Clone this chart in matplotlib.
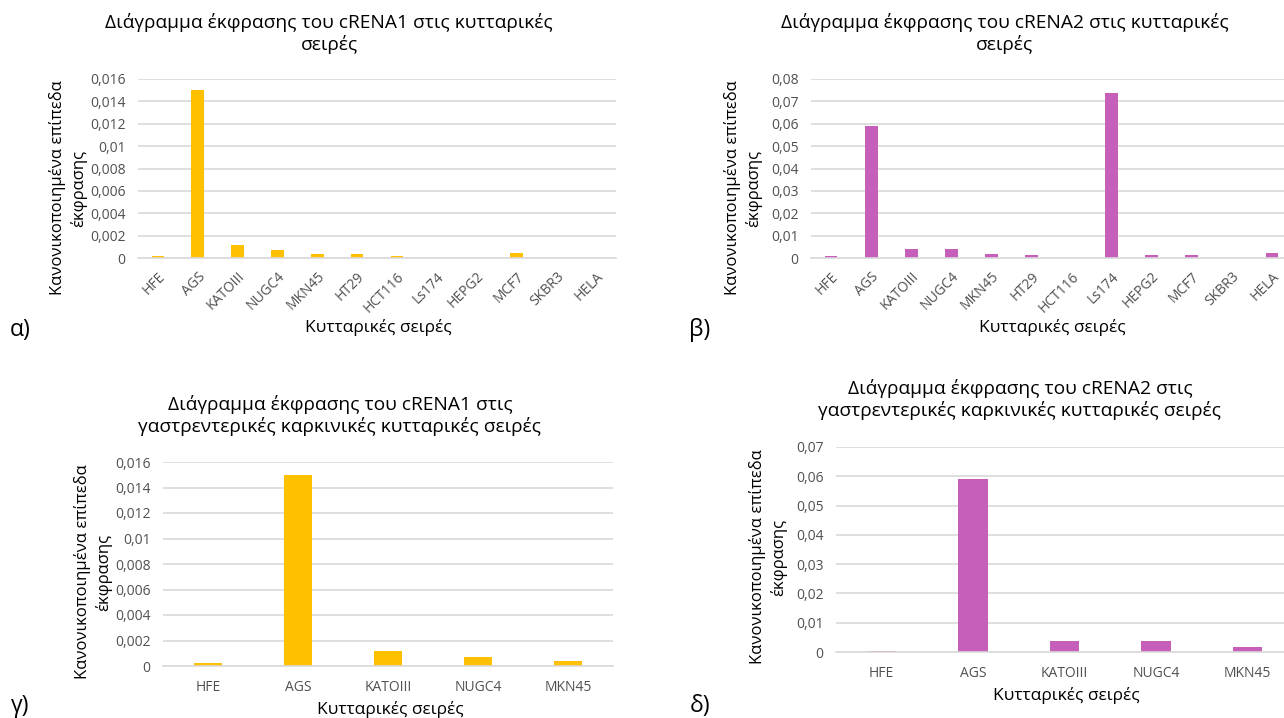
import numpy as np
import matplotlib
matplotlib.use("Agg")
import matplotlib.pyplot as plt
from matplotlib.ticker import FuncFormatter, MultipleLocator

plt.rcParams['font.family'] = ['Open Sans', 'DejaVu Sans']

# ==================== ΔΕΔΟΜΕΝΑ ====================
lines_all = ["HFE", "AGS", "KATOIII", "NUGC4", "MKN45", "HT29", "HCT116",
             "Ls174", "HEPG2", "MCF7", "SKBR3", "HELA"]
lines_gi = ["HFE", "AGS", "KATOIII", "NUGC4", "MKN45"]

crena1_all = [0.0002, 0.0150, 0.0012, 0.00074, 0.0004, 0.00035, 0.0002,
              0.0, 0.0, 0.00045, 0.0, 0.0]
crena2_all = [0.0007, 0.0592, 0.0039, 0.0039, 0.0019, 0.0015, 0.0,
              0.0738, 0.0015, 0.0012, 0.0, 0.0022]
crena1_gi = [0.0002, 0.0150, 0.0012, 0.00074, 0.0004]
crena2_gi = [0.0005, 0.0590, 0.0037, 0.0037, 0.0018]

YELLOW = "#FFC000"
PURPLE = "#C55FBA"
GRID = "#D9D9D9"
TICK = "#505050"

W, H = 1284, 718
fig = plt.figure(figsize=(W / 100, H / 100), dpi=100)


def rect(x0, x1, ytop, ybot):
    return [x0 / W, 1 - ybot / H, (x1 - x0) / W, (ybot - ytop) / H]


def ftext(x, y, s, **kw):
    fig.text(x / W, 1 - y / H, s, **kw)


def comma(v, pos):
    if abs(v) < 1e-12:
        return "0"
    return f"{v:g}".replace(".", ",")


def bar_panel(box, names, values, color, ymax, step, rotate):
    ax = fig.add_axes(rect(*box))
    x = np.arange(len(names))
    ax.bar(x, values, width=0.32, color=color, zorder=3)
    ax.set_xlim(-0.5, len(names) - 0.5)
    ax.set_ylim(0, ymax)
    ax.yaxis.set_major_locator(MultipleLocator(step))
    ax.yaxis.set_major_formatter(FuncFormatter(comma))
    ax.grid(axis='y', color=GRID, linewidth=1.2, zorder=0)
    for s in ["top", "right", "left"]:
        ax.spines[s].set_visible(False)
    ax.spines["bottom"].set_color(GRID)
    ax.spines["bottom"].set_linewidth(1.2)
    ax.spines["bottom"].set_zorder(4)
    ax.tick_params(length=0, colors=TICK, labelsize=10)
    ax.tick_params(axis='y', pad=9)
    ax.set_xticks(x)
    if rotate:
        ax.set_xticklabels(names, rotation=45, ha='right', rotation_mode='anchor')
        ax.tick_params(axis='x', pad=8)
    else:
        ax.set_xticklabels(names)
        ax.tick_params(axis='x', pad=10)
    return ax


YLAB = "Κανονικοποιημένα επίπεδα\nέκφρασης"
XLAB = "Κυτταρικές σειρές"
TSIZE = 13.8
YSIZE = 12
XSIZE = 12.5
PSIZE = 16.5

# α)
bar_panel((138, 616, 79, 258), lines_all, crena1_all, YELLOW, 0.016, 0.002, True)
ftext(329, 34, "Διάγραμμα έκφρασης του cRENA1 στις κυτταρικές\nσειρές",
      ha='center', va='center', fontsize=TSIZE, linespacing=1.2)
ftext(68, 188, YLAB, rotation=90, ha='center', va='center', fontsize=YSIZE,
      linespacing=1.3, multialignment='center')
ftext(378, 328, XLAB, ha='center', va='center', fontsize=XSIZE)
ftext(20, 330, "α)", ha='center', va='center', fontsize=PSIZE)

# β)
bar_panel((811, 1292, 79, 258), lines_all, crena2_all, PURPLE, 0.08, 0.01, True)
ftext(1005, 34, "Διάγραμμα έκφρασης του cRENA2 στις κυτταρικές\nσειρές",
      ha='center', va='center', fontsize=TSIZE, linespacing=1.2)
ftext(743, 188, YLAB, rotation=90, ha='center', va='center', fontsize=YSIZE,
      linespacing=1.3, multialignment='center')
ftext(1052, 328, XLAB, ha='center', va='center', fontsize=XSIZE)
ftext(700, 330, "β)", ha='center', va='center', fontsize=PSIZE)

# γ)
bar_panel((163, 613, 462, 666), lines_gi, crena1_gi, YELLOW, 0.016, 0.002, False)
ftext(340, 416, "Διάγραμμα έκφρασης του cRENA1 στις\nγαστρεντερικές καρκινικές κυτταρικές σειρές",
      ha='center', va='center', fontsize=TSIZE, linespacing=1.2)
ftext(93, 572, YLAB, rotation=90, ha='center', va='center', fontsize=YSIZE,
      linespacing=1.3, multialignment='center')
ftext(390, 710, XLAB, ha='center', va='center', fontsize=XSIZE)
ftext(20, 706, "γ)", ha='center', va='center', fontsize=PSIZE)

# δ)
bar_panel((836, 1293, 447, 652), lines_gi, crena2_gi, PURPLE, 0.07, 0.01, False)
ftext(1020, 400, "Διάγραμμα έκφρασης του cRENA2 στις\nγαστρεντερικές καρκινικές κυτταρικές σειρές",
      ha='center', va='center', fontsize=TSIZE, linespacing=1.2)
ftext(768, 557, YLAB, rotation=90, ha='center', va='center', fontsize=YSIZE,
      linespacing=1.3, multialignment='center')
ftext(1066, 695, XLAB, ha='center', va='center', fontsize=XSIZE)
ftext(700, 706, "δ)", ha='center', va='center', fontsize=PSIZE)

fig.savefig("out.png", dpi=100, facecolor="white")
